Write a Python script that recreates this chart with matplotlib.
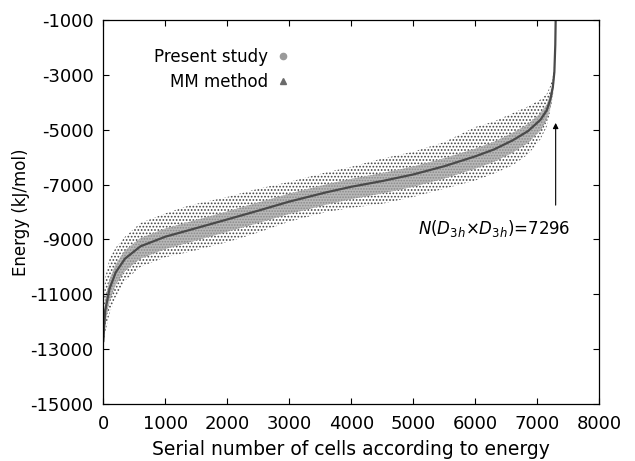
import matplotlib
matplotlib.use("Agg")
import matplotlib.pyplot as plt
from matplotlib.lines import Line2D

plt.rcParams['font.family'] = ['DejaVu Sans']
plt.rcParams['axes.unicode_minus'] = False
plt.rcParams['hatch.linewidth'] = 0.8

# serial number of cells (sorted by energy) and read-off energies, kJ/mol
serial = [0, 30, 100, 200, 350, 600, 1000, 1400, 2000, 2500, 3000, 3600, 4000,
          4500, 5000, 5500, 6000, 6300, 6600, 6850, 7050, 7150, 7210, 7250,
          7275, 7290, 7296]
present = [-12700, -11600, -10800, -10200, -9700, -9250, -8900, -8650, -8270,
           -7950, -7620, -7280, -7080, -6870, -6630, -6330, -5970, -5720,
           -5390, -5050, -4640, -4300, -3900, -3450, -2900, -1900, -1000]

# MM method scatter: outer (sparse) and inner (dense) envelopes
mm_outer_hi = [-11500, -10400, -9700, -9300, -8900, -8400, -8050, -7750, -7450,
               -7150, -6900, -6550, -6350, -6050, -5800, -5450, -4900, -4700,
               -4400, -4150, -3900, -3700, -3400, -3050, -2600, -1700, -1000]
mm_outer_lo = [-13000, -12400, -11700, -11100, -10500, -10000, -9650, -9450,
               -9100, -8750, -8350, -8000, -7850, -7700, -7450, -7150, -6850,
               -6600, -6300, -5900, -5350, -4900, -4300, -3800, -3200, -2200,
               -1000]
mm_inner_hi = [-12300, -11200, -10450, -9900, -9400, -8950, -8600, -8350, -7980,
               -7650, -7330, -6990, -6790, -6580, -6340, -6040, -5690, -5440,
               -5120, -4790, -4400, -4080, -3700, -3270, -2750, -1800, -1000]
mm_inner_lo = [-13000, -12100, -11250, -10650, -10150, -9700, -9350, -9100,
               -8720, -8400, -8070, -7730, -7530, -7320, -7080, -6780, -6420,
               -6170, -5840, -5480, -5030, -4650, -4200, -3700, -3100, -2000,
               -1000]

n_label = r'$\it{N}$($\it{D}_{3\it{h}}$$\times$$\it{D}_{3\it{h}}$)=7296'

fig = plt.figure(figsize=(6.35, 4.61), dpi=100)
ax = fig.add_axes([0.1627, 0.1236, 0.7811, 0.833])

# sparse outer cloud
ax.fill_between(serial, mm_outer_lo, mm_outer_hi, facecolor='none',
                edgecolor='#444444', hatch='.....', linewidth=0)
# dense inner band
ax.fill_between(serial, mm_inner_lo, mm_inner_hi, facecolor='#b8b8b8',
                edgecolor='#8a8a8a', hatch='......', linewidth=0)
# present study
ax.plot(serial, present, color='#4a4a4a', linewidth=1.6)

ax.annotate('', xy=(7296, -4650), xytext=(7296, -7850),
            arrowprops=dict(arrowstyle='-|>', color='black', lw=0.8,
                            mutation_scale=8))
ax.text(7530, -8600, n_label, ha='right', va='center', fontsize=12)

ax.set_xlim(0, 8000)
ax.set_ylim(-15000, -1000)
ax.set_xticks(range(0, 8001, 1000))
ax.set_yticks(range(-15000, -999, 2000))
ax.tick_params(direction='in', top=True, right=True, length=4, width=0.8,
               labelsize=13)
ax.tick_params(axis='x', pad=8)
ax.tick_params(axis='y', pad=7)
for s in ax.spines.values():
    s.set_linewidth(0.9)

ax.set_xlabel('Serial number of cells according to energy', fontsize=13.5,
              labelpad=5)
ax.set_ylabel('Energy (kJ/mol)', fontsize=12, labelpad=0)

handles = [
    Line2D([], [], linestyle='none', marker='o', markersize=4.5,
           color='#9a9a9a', label='Present study'),
    Line2D([], [], linestyle='none', marker='^', markersize=4.5,
           color='#6a6a6a', label='MM method'),
]
ax.legend(handles=handles, loc='upper left', bbox_to_anchor=(0.088, 0.945),
          frameon=False, markerfirst=False, fontsize=12, handlelength=0.8,
          handletextpad=0.5, labelspacing=0.45, borderaxespad=0)

fig.savefig('out.png', dpi=100)
